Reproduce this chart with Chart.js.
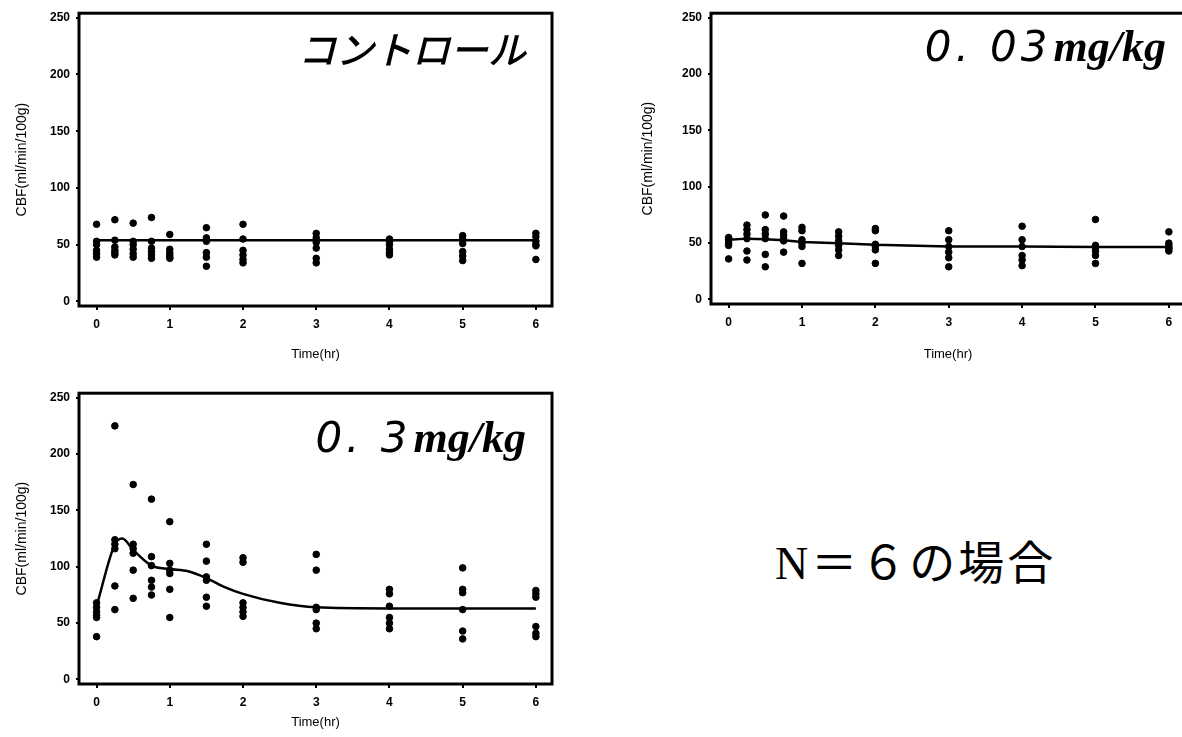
<!DOCTYPE html>
<html>
<head>
<meta charset="utf-8">
<script src="https://cdn.jsdelivr.net/npm/chart.js@4.4.0/dist/chart.umd.min.js"></script>
<style>
  body { margin: 0; background: #fff; width: 1182px; height: 737px; overflow: hidden; position: relative; }
  .panel { position: absolute; }
  .label { position: absolute; white-space: nowrap; line-height: 1; color: #000; }
  .sans { font-family: "DejaVu Sans", sans-serif; font-style: italic; letter-spacing: 4px; }
  .serif { font-family: "Liberation Serif", serif; font-style: italic; font-weight: bold; margin-left: 2px; }
  .jp { font-family: "Noto Sans CJK JP", sans-serif; font-style: italic; font-weight: 500; }
  .note { font-family: "Liberation Serif", "Noto Sans CJK JP", serif; font-size: 46px; letter-spacing: 3px; }
</style>
</head>
<body>
<div class="panel" style="left:0;top:0"><canvas id="c1" width="570" height="372"></canvas></div>
<div class="panel" style="left:632px;top:0"><canvas id="c2" width="571" height="372"></canvas></div>
<div class="panel" style="left:0;top:380px"><canvas id="c3" width="570" height="357"></canvas></div>

<div class="label jp" style="left:298px;top:29px;font-size:38px">コントロール</div>
<div class="label" style="left:860px;top:25px;width:306px;text-align:right"><span class="sans" style="font-size:42px">0. 03</span><span class="serif" style="font-size:44px">mg/kg</span></div>
<div class="label" style="left:240px;top:416px;width:286px;text-align:right"><span class="sans" style="font-size:42px">0. 3</span><span class="serif" style="font-size:44px">mg/kg</span></div>
<div class="label note" style="left:775px;top:541px">N＝６の場合</div>

<script>
// sampling times (hr)
const times = [0, 0.25, 0.5, 0.75, 1, 1.5, 2, 3, 4, 5, 6];
const xTicks = [0, 1, 2, 3, 4, 5, 6];
const yTicks = [0, 50, 100, 150, 200, 250];

// CBF (ml/min/100g), six animals per time point
const controlCBF = [
  [68, 53, 50, 45, 42, 39],
  [72, 54, 48, 45, 43, 41],
  [69, 53, 50, 46, 42, 39],
  [74, 53, 47, 44, 41, 38],
  [59, 46, 43, 41, 39, 38],
  [65, 56, 53, 43, 39, 31],
  [68, 55, 45, 41, 37, 34],
  [60, 56, 52, 47, 38, 34],
  [55, 53, 50, 46, 43, 41],
  [58, 55, 51, 44, 40, 36],
  [60, 57, 53, 50, 49, 37]
];
const lowDoseCBF = [
  [55, 53, 52, 50, 48, 36],
  [66, 62, 58, 54, 43, 35],
  [75, 62, 58, 54, 40, 29],
  [74, 60, 57, 54, 52, 42],
  [64, 61, 53, 50, 47, 32],
  [60, 56, 52, 48, 44, 39],
  [63, 61, 49, 47, 44, 32],
  [61, 53, 47, 42, 37, 29],
  [65, 53, 47, 39, 35, 30],
  [71, 48, 46, 43, 39, 32],
  [60, 50, 48, 46, 45, 43]
];
const highDoseCBF = [
  [68, 64, 60, 57, 55, 38],
  [225, 124, 120, 116, 83, 62],
  [173, 120, 116, 112, 97, 72],
  [160, 109, 101, 88, 82, 75],
  [140, 103, 97, 94, 80, 55],
  [120, 105, 91, 88, 73, 65],
  [108, 104, 68, 64, 60, 56],
  [111, 97, 64, 62, 50, 45],
  [80, 76, 65, 55, 50, 45],
  [99, 80, 77, 62, 43, 36],
  [79, 76, 73, 47, 41, 38]
];

// fitted curves
const controlFitT = [0, 6];
const controlFitV = [54, 54];
const lowFitT = [0, 0.25, 0.5, 0.75, 1, 1.5, 2, 3, 4, 5, 6];
const lowFitV = [53, 54, 53.5, 52.5, 51, 50, 48.5, 47, 47, 46.5, 46.5];
const highFitT = [0, 0.25, 0.35, 0.5, 0.75, 1, 1.25, 1.5, 1.75, 2, 2.5, 3, 4, 5, 6];
const highFitV = [65, 120, 125, 115, 101, 98, 96, 90, 82, 76, 68, 64, 63, 63, 63];

Chart.defaults.color = '#000';
Chart.defaults.font.family = '"Liberation Sans", Arial, sans-serif';

const framePlugin = {
  id: 'frame',
  afterDatasetsDraw(chart) {
    const a = chart.chartArea, ctx = chart.ctx;
    ctx.save();
    ctx.strokeStyle = '#000';
    ctx.lineWidth = 3;
    ctx.strokeRect(a.left, a.top, a.right - a.left, a.bottom - a.top);
    ctx.restore();
  }
};

function points(vals) {
  const pts = [];
  vals.forEach((row, i) => row.forEach(v => pts.push({ x: times[i], y: v })));
  return pts;
}

// box: canvas size; area: chart area inside canvas; yTitle / xTitle: title centre offsets from canvas edge
function makePanel(id, vals, fitT, fitV, smooth, box) {
  new Chart(document.getElementById(id), {
    type: 'scatter',
    data: {
      datasets: [{
        data: points(vals),
        backgroundColor: '#000',
        borderColor: '#000',
        pointRadius: 3.3,
        pointHoverRadius: 3.3,
        clip: false
      }, {
        type: 'line',
        data: fitT.map((t, i) => ({ x: t, y: fitV[i] })),
        borderColor: '#000',
        borderWidth: 2.5,
        pointRadius: 0,
        fill: false,
        cubicInterpolationMode: smooth ? 'monotone' : 'default',
        tension: 0
      }]
    },
    options: {
      responsive: false,
      animation: false,
      events: [],
      layout: { padding: { left: 0, top: box.top, right: box.w - box.right, bottom: 0 } },
      plugins: { legend: { display: false }, tooltip: { enabled: false } },
      scales: {
        x: {
          type: 'linear',
          min: -0.24, max: 6.22,
          afterFit: s => { s.height = box.h - box.bottom; },
          afterBuildTicks: s => { s.ticks = xTicks.map(v => ({ value: v })); },
          border: { display: false },
          grid: { drawOnChartArea: false, tickLength: 4, color: '#000', lineWidth: 2 },
          ticks: { padding: 7, font: { size: 12, weight: 'bold' } },
          title: { display: true, text: 'Time(hr)', font: { size: 13 }, padding: { top: 0, bottom: box.xTitle - 7.8 } }
        },
        y: {
          min: -4, max: 254,
          afterFit: s => { s.width = box.left; },
          afterBuildTicks: s => { s.ticks = yTicks.map(v => ({ value: v })); },
          border: { display: false },
          grid: { drawOnChartArea: false, tickLength: 3, color: '#000', lineWidth: 2 },
          ticks: { padding: 6, font: { size: 12, weight: 'bold' } },
          title: { display: true, text: 'CBF(ml/min/100g)', font: { size: 14 }, padding: { top: box.yTitle - 8.4, bottom: 0 } }
        }
      }
    },
    plugins: [framePlugin]
  });
}

makePanel('c1', controlCBF, controlFitT, controlFitV, false,
  { w: 570, h: 372, left: 79, top: 12, right: 552, bottom: 306, xTitle: 18, yTitle: 22 });
makePanel('c2', lowDoseCBF, lowFitT, lowFitV, false,
  { w: 571, h: 372, left: 79, top: 12, right: 553, bottom: 304, xTitle: 18, yTitle: 16 });
makePanel('c3', highDoseCBF, highFitT, highFitV, true,
  { w: 570, h: 357, left: 79, top: 12, right: 552, bottom: 304, xTitle: 15, yTitle: 22 });
</script>
</body>
</html>
